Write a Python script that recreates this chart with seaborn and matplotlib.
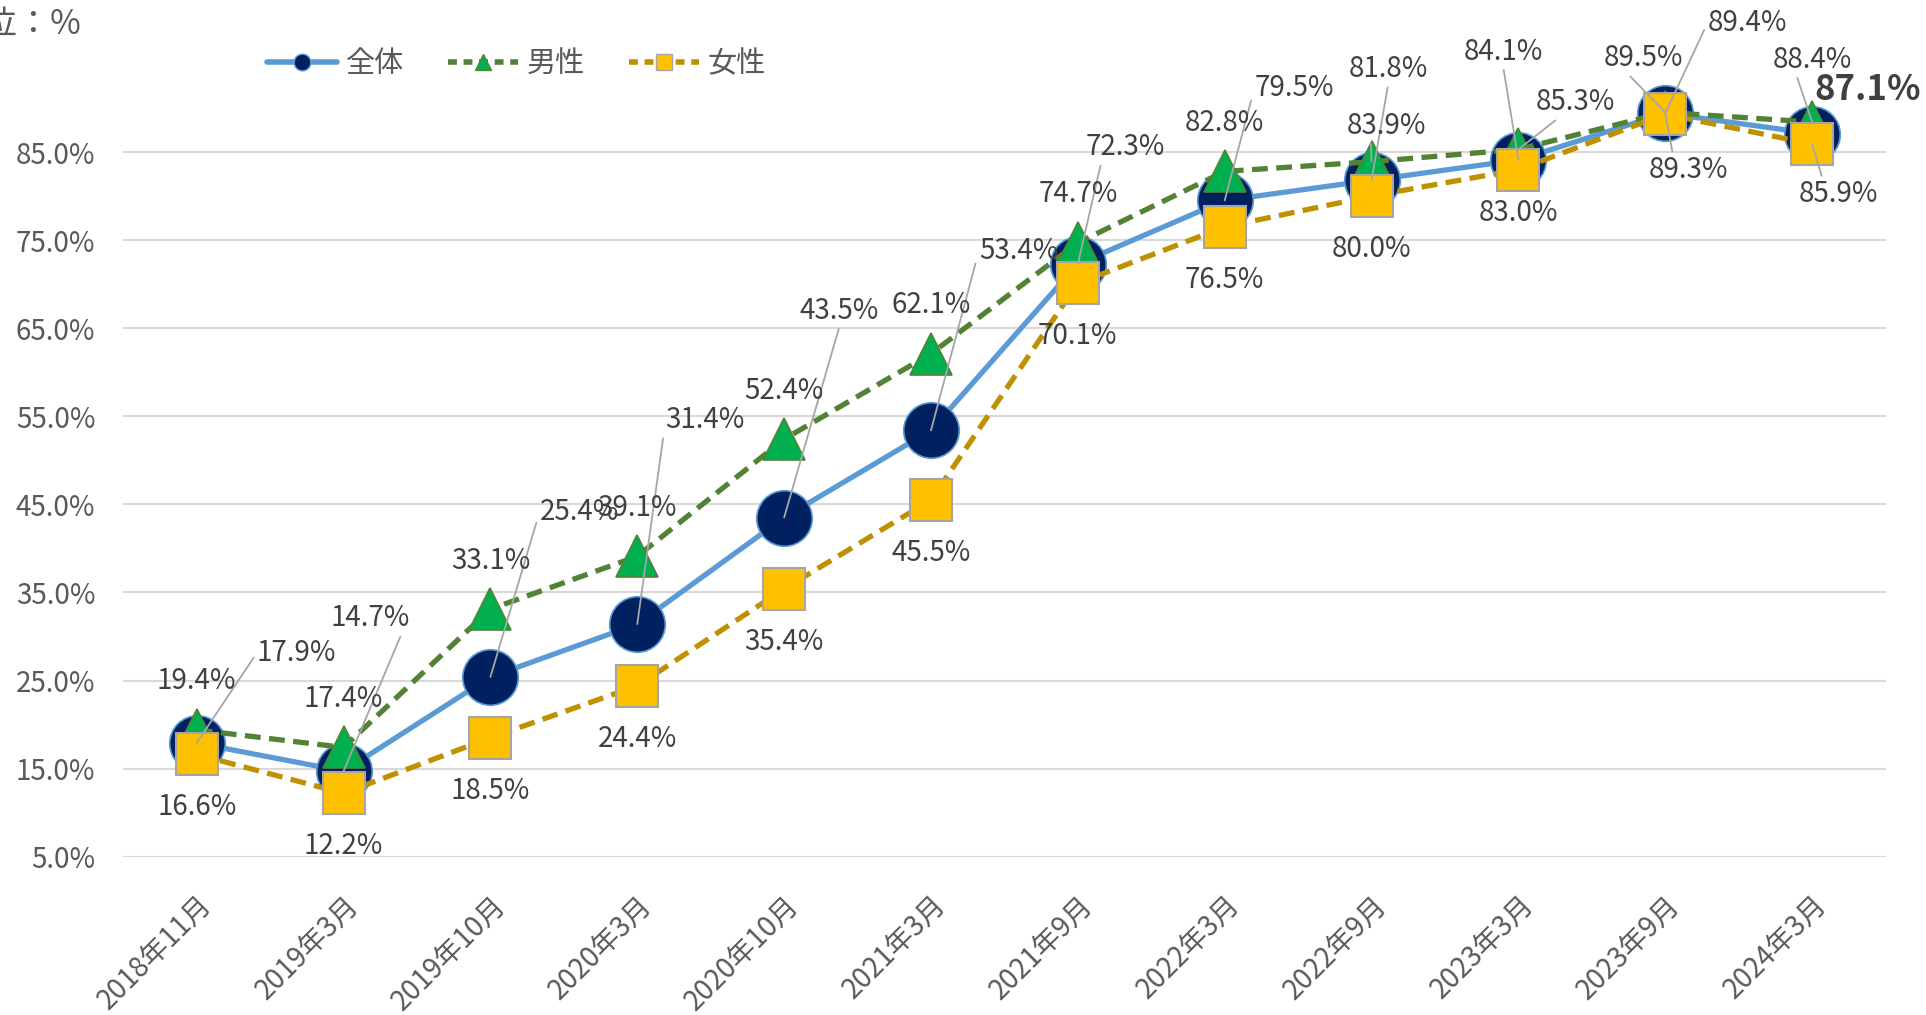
import pandas as pd
import numpy as np
import matplotlib.pyplot as plt
import seaborn as sns
from matplotlib.lines import Line2D

# 調査時期と割合（％）
periods = ['2018年11月', '2019年3月', '2019年10月', '2020年3月', '2020年10月', '2021年3月',
           '2021年9月', '2022年3月', '2022年9月', '2023年3月', '2023年9月', '2024年3月']
total = [17.9, 14.7, 25.4, 31.4, 43.5, 53.4, 72.3, 79.5, 81.8, 84.1, 89.4, 87.1]
male = [19.4, 17.4, 33.1, 39.1, 52.4, 62.1, 74.7, 82.8, 83.9, 85.3, 89.5, 88.4]
female = [16.6, 12.2, 18.5, 24.4, 35.4, 45.5, 70.1, 76.5, 80.0, 83.0, 89.3, 85.9]
yticks = [5, 15, 25, 35, 45, 55, 65, 75, 85]

df = pd.DataFrame({'pos': range(len(periods)), '時期': periods,
                   '全体': total, '男性': male, '女性': female})

# ラベルの位置（ポイント単位のオフセット）
off_total = [(72, 65), (19, 110), (64, 119), (49, 147), (40, 149), (63, 129),
             (34, 84), (50, 81), (12, 80), (-11, 78), (59, 65), (40, 32)]
rel_total = [(0, 0.5), (0.9, 0), (0, 0.5), (0, 0.5), (0.5, 0), (0, 0.5),
             (0.2, 0), (0, 0.5), (0.5, 0), (0.5, 0), (0, 0.5), None]
off_male = [(0, 35)] * 8 + [(11, 26), (41, 34), (-16, 39), (0, 45)]
lead_male = [False] * 8 + [True, True, True, True]
off_female = [(0, -38)] * 9 + [(0, -31), (17, -40), (19, -36)]
lead_female = [False] * 10 + [True, True]

sns.set_theme(style='white')
plt.rcParams['font.family'] = ['Noto Sans CJK JP', 'DejaVu Sans']

fig = plt.figure(figsize=(19.26, 10.15), dpi=100)
ax = fig.add_axes([0.064, 0.156, 0.915, 0.781])

txt = '#595959'
lab = '#404040'
fs = 20

sns.lineplot(data=df, x='pos', y='全体', ax=ax, color='#5B9BD5', lw=3.8,
             marker='o', ms=40, mfc='#002060', mec='#5B9BD5', mew=1.2, zorder=2)
sns.lineplot(data=df, x='pos', y='男性', ax=ax, color='#548235', lw=3.8,
             linestyle=(0, (3, 1.6)), marker='^', ms=30, mfc='#00B050',
             mec='#548235', mew=1.2, zorder=3)
sns.lineplot(data=df, x='pos', y='女性', ax=ax, color='#BF9000', lw=3.8,
             linestyle=(0, (3, 1.6)), marker='s', ms=30, mfc='#FFC000',
             mec='#A5A5A5', mew=1.5, zorder=4)

leader = dict(arrowstyle='-', color='#A6A6A6', lw=1.3, shrinkA=0, shrinkB=0)

for i, v in enumerate(total):
    if i == len(total) - 1:
        ax.annotate(f'{v:.1f}%', (i, v), xytext=off_total[i], textcoords='offset points',
                    ha='center', va='center', fontsize=25, fontweight='bold',
                    color=lab, zorder=6)
        continue
    ax.annotate(f'{v:.1f}%', (i, v), xytext=off_total[i], textcoords='offset points',
                ha='center', va='center', fontsize=fs, color=lab, zorder=6,
                arrowprops=dict(leader, relpos=rel_total[i]))

for i, v in enumerate(male):
    kw = dict(arrowprops=dict(leader, relpos=(0.3, 0))) if lead_male[i] else {}
    ax.annotate(f'{v:.1f}%', (i, v), xytext=off_male[i], textcoords='offset points',
                ha='center', va='center', fontsize=fs, color=lab, zorder=6, **kw)

for i, v in enumerate(female):
    kw = dict(arrowprops=dict(leader, relpos=(0.3, 1))) if lead_female[i] else {}
    ax.annotate(f'{v:.1f}%', (i, v), xytext=off_female[i], textcoords='offset points',
                ha='center', va='center', fontsize=fs, color=lab, zorder=6, **kw)

ax.set_xlim(-0.5, len(periods) - 0.5)
ax.set_ylim(5, 95)
ax.set_yticks(yticks)
ax.set_yticklabels([f'{t:.1f}%' for t in yticks], fontsize=fs, color=txt)
ax.set_xticks(range(len(periods)))
ax.set_xticklabels(periods, rotation=45, ha='right', rotation_mode='anchor',
                   fontsize=fs, color=txt)
ax.tick_params(axis='y', length=0, pad=20)
ax.tick_params(axis='x', length=0, pad=24)
ax.yaxis.grid(True, color='#D9D9D9', lw=1.5)
ax.set_axisbelow(True)
for s in ax.spines.values():
    s.set_visible(False)
ax.set_xlabel('')
ax.set_ylabel('')

handles = [
    Line2D([], [], color='#5B9BD5', lw=4, marker='o', ms=12, mfc='#002060', mec='#5B9BD5'),
    Line2D([], [], color='#548235', lw=4, ls=(0, (1.6, 1.2)), marker='^', ms=12,
           mfc='#00B050', mec='#548235'),
    Line2D([], [], color='#BF9000', lw=4, ls=(0, (1.6, 1.2)), marker='s', ms=11,
           mfc='#FFC000', mec='#A5A5A5'),
]
leg = fig.legend(handles, ['全体', '男性', '女性'], loc='center left',
                 bbox_to_anchor=(0.125, 0.937), ncol=3, frameon=False,
                 fontsize=21, handlelength=2.4, columnspacing=1.5, handletextpad=0.3)
for t in leg.get_texts():
    t.set_color(txt)

fig.text(-0.026, 0.976, '単位：%', fontsize=24, color=txt, ha='left', va='center')

fig.savefig('out.png', dpi=100)
